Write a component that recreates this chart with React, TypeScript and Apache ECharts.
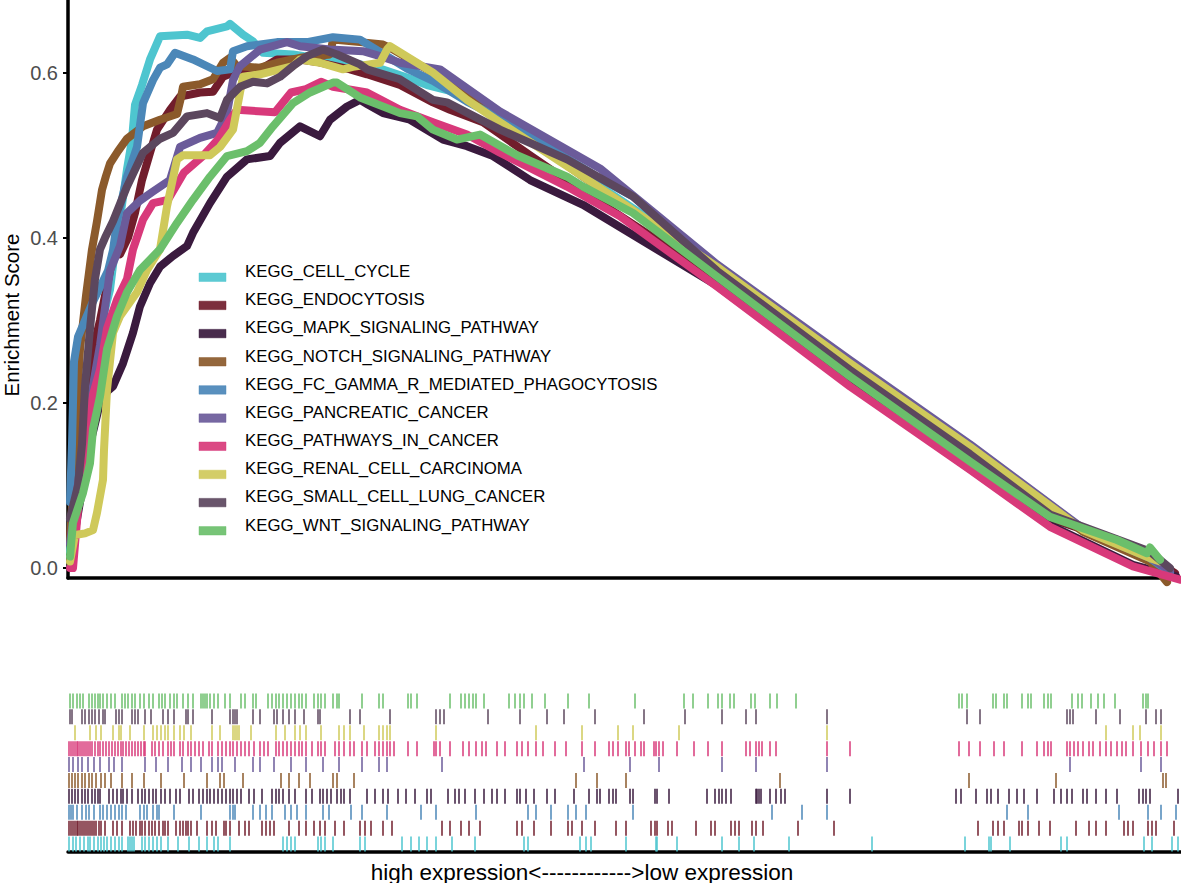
import React, { useEffect, useRef } from "react";
import * as echarts from "echarts";

const SETS = [
  "KEGG_CELL_CYCLE",
  "KEGG_ENDOCYTOSIS",
  "KEGG_MAPK_SIGNALING_PATHWAY",
  "KEGG_NOTCH_SIGNALING_PATHWAY",
  "KEGG_FC_GAMMA_R_MEDIATED_PHAGOCYTOSIS",
  "KEGG_PANCREATIC_CANCER",
  "KEGG_PATHWAYS_IN_CANCER",
  "KEGG_RENAL_CELL_CARCINOMA",
  "KEGG_SMALL_CELL_LUNG_CANCER",
  "KEGG_WNT_SIGNALING_PATHWAY",
];

// barcode rows, bottom to top (alphabetical)
const RUG_ORDER = [
  "KEGG_CELL_CYCLE",
  "KEGG_ENDOCYTOSIS",
  "KEGG_FC_GAMMA_R_MEDIATED_PHAGOCYTOSIS",
  "KEGG_MAPK_SIGNALING_PATHWAY",
  "KEGG_NOTCH_SIGNALING_PATHWAY",
  "KEGG_PANCREATIC_CANCER",
  "KEGG_PATHWAYS_IN_CANCER",
  "KEGG_RENAL_CELL_CARCINOMA",
  "KEGG_SMALL_CELL_LUNG_CANCER",
  "KEGG_WNT_SIGNALING_PATHWAY",
];

const COLORS = [
  "#4ec5cf",
  "#711d2c",
  "#3a1a3e",
  "#8b5a2b",
  "#4b87b8",
  "#6b5b9a",
  "#d8397a",
  "#cfc95a",
  "#5c475e",
  "#6bbf6b",
];

const Y_TICKS = [0, 0.2, 0.4, 0.6];
const GENE_COUNT = 11130;
const Y_TITLE = "Enrichment Score";
const X_TITLE = "high expression<------------>low expression";

// running enrichment score: [gene rank, ES]
const esCellCycle = [[20,0.02],[120,0.15],[220,0.24],[320,0.29],[420,0.337],[470,0.386],[540,0.44],[590,0.483],[640,0.519],[670,0.561],[740,0.585],[820,0.616],[920,0.644],[1190,0.646],[1320,0.642],[1390,0.65],[1590,0.656],[1620,0.659],[1750,0.646],[1850,0.638],[1950,0.624],[2250,0.622],[2620,0.615],[2920,0.61],[3120,0.605],[3390,0.594],[3590,0.585],[3820,0.578],[4320,0.545],[5150,0.476],[5820,0.422],[6490,0.366],[7820,0.25],[9020,0.148],[10150,0.046],[10820,0.01],[11040,-0.008]];
const esEndocytosis = [[20,0.04],[120,0.17],[220,0.25],[320,0.3],[420,0.36],[470,0.385],[520,0.38],[600,0.4],[670,0.43],[740,0.47],[820,0.503],[890,0.531],[1020,0.555],[1120,0.571],[1320,0.576],[1450,0.577],[1550,0.595],[1650,0.6],[1790,0.6],[1920,0.604],[2090,0.616],[2320,0.616],[2490,0.613],[2820,0.604],[2990,0.598],[3320,0.585],[3650,0.564],[3820,0.555],[4150,0.54],[4620,0.5],[5150,0.456],[6490,0.35],[7820,0.23],[9020,0.128],[9820,0.06],[10490,0.033],[10820,0.013],[11070,-0.006]];
const esMapk = [[20,0.01],[120,0.08],[220,0.15],[320,0.2],[400,0.215],[450,0.22],[550,0.248],[650,0.285],[720,0.317],[820,0.345],[920,0.365],[1050,0.378],[1190,0.39],[1250,0.406],[1420,0.442],[1590,0.474],[1790,0.495],[2020,0.499],[2120,0.515],[2320,0.535],[2520,0.523],[2620,0.543],[2790,0.559],[2920,0.567],[2990,0.562],[3150,0.551],[3420,0.543],[3750,0.519],[3990,0.511],[4250,0.499],[4620,0.47],[5150,0.44],[6490,0.342],[7820,0.222],[9020,0.12],[9820,0.052],[10650,0.004],[11080,-0.01]];
const esNotch = [[20,0.03],[50,0.1],[90,0.2],[120,0.265],[180,0.33],[240,0.386],[290,0.42],[340,0.458],[380,0.475],[420,0.49],[500,0.505],[590,0.52],[750,0.535],[920,0.543],[1090,0.55],[1130,0.57],[1150,0.583],[1320,0.586],[1450,0.592],[1550,0.612],[1620,0.618],[1690,0.608],[1920,0.606],[2090,0.612],[2320,0.618],[2620,0.622],[2650,0.64],[2920,0.637],[3150,0.634],[3220,0.63],[3650,0.6],[4320,0.545],[5150,0.474],[6490,0.363],[7820,0.247],[9020,0.145],[10150,0.044],[10820,0.008],[10990,-0.017]];
const esFcGamma = [[20,0.08],[40,0.15],[60,0.25],[100,0.28],[170,0.3],[240,0.32],[320,0.34],[400,0.36],[450,0.385],[490,0.42],[590,0.474],[690,0.51],[750,0.563],[850,0.591],[920,0.606],[990,0.61],[1070,0.624],[1250,0.616],[1490,0.602],[1620,0.604],[1650,0.626],[1790,0.632],[2090,0.637],[2390,0.637],[2650,0.643],[2920,0.64],[3120,0.625],[3390,0.605],[3650,0.59],[3990,0.565],[4320,0.545],[5050,0.492],[5320,0.472],[5650,0.45],[6490,0.367],[7820,0.25],[9020,0.148],[10150,0.047],[10820,0.012],[11020,-0.005]];
const esPancreatic = [[20,0.03],[120,0.12],[220,0.2],[320,0.27],[420,0.36],[520,0.39],[590,0.43],[720,0.445],[850,0.456],[1020,0.47],[1120,0.51],[1320,0.521],[1490,0.527],[1590,0.551],[1650,0.591],[1720,0.608],[1920,0.628],[2190,0.637],[2320,0.632],[2620,0.628],[2950,0.626],[3120,0.62],[3320,0.612],[3720,0.604],[4320,0.553],[5320,0.484],[6490,0.368],[7820,0.252],[9020,0.15],[10150,0.048],[10820,0.013],[11020,-0.003]];
const esPathways = [[20,0],[50,0],[120,0.1],[190,0.17],[250,0.21],[320,0.24],[390,0.29],[490,0.325],[590,0.35],[650,0.386],[750,0.422],[850,0.442],[1000,0.446],[1160,0.479],[1350,0.499],[1500,0.519],[1620,0.543],[1690,0.555],[2070,0.552],[2230,0.576],[2380,0.58],[2530,0.589],[2650,0.583],[2990,0.576],[3320,0.555],[3650,0.54],[3990,0.525],[4320,0.503],[4990,0.462],[5520,0.426],[6490,0.341],[7820,0.22],[9020,0.119],[9820,0.05],[10650,0.002],[11120,-0.014]];
const esRenal = [[20,0.008],[70,0.04],[170,0.042],[250,0.046],[290,0.067],[350,0.107],[360,0.143],[390,0.216],[450,0.285],[520,0.305],[690,0.334],[790,0.361],[920,0.386],[990,0.438],[1090,0.495],[1150,0.5],[1420,0.5],[1520,0.51],[1650,0.531],[1720,0.576],[1750,0.595],[1920,0.598],[2250,0.608],[2320,0.616],[2520,0.612],[2750,0.604],[2850,0.607],[3120,0.612],[3190,0.628],[3220,0.632],[3650,0.6],[3990,0.567],[4320,0.54],[5150,0.474],[6490,0.365],[7820,0.248],[9020,0.147],[10150,0.046],[10820,0.012],[10920,0.008]];
const esSmallCell = [[20,0.06],[100,0.1],[140,0.15],[170,0.22],[220,0.29],[270,0.35],[320,0.386],[370,0.4],[450,0.42],[590,0.462],[750,0.503],[920,0.52],[1050,0.527],[1190,0.547],[1390,0.551],[1520,0.545],[1590,0.567],[1720,0.583],[1850,0.589],[1990,0.587],[2120,0.595],[2250,0.608],[2390,0.62],[2550,0.628],[2690,0.622],[2920,0.61],[2990,0.604],[3320,0.592],[3650,0.567],[3790,0.564],[4320,0.531],[4990,0.495],[5650,0.45],[6490,0.36],[7820,0.24],[9020,0.138],[9820,0.065],[10490,0.035],[10820,0.02],[11020,0]];
const esWnt = [[20,0.014],[50,0.055],[150,0.091],[220,0.127],[250,0.168],[320,0.208],[390,0.265],[490,0.305],[590,0.334],[720,0.361],[920,0.386],[1090,0.418],[1250,0.446],[1420,0.474],[1590,0.499],[1790,0.505],[1920,0.515],[2050,0.535],[2250,0.563],[2420,0.576],[2650,0.588],[2690,0.588],[2920,0.57],[3320,0.551],[3490,0.547],[3650,0.531],[3890,0.519],[4120,0.525],[4490,0.5],[4990,0.474],[5150,0.462],[5650,0.43],[6490,0.353],[7820,0.232],[9020,0.129],[9820,0.062],[10490,0.034],[10790,0.018],[10820,0.025],[10920,0.01]];

// ranks of the gene-set members (barcode rug)
const hitsCellCycle = [10,50,80,120,160,200,220,260,300,330,360,390,430,470,510,540,600,620,640,660,740,770,810,850,890,930,1000,1100,1210,1310,1390,1460,1500,1620,2150,2190,2230,2270,2500,2530,2570,2650,2920,2970,3340,3430,3510,3590,3680,3840,4070,4560,4600,5120,5180,5230,5580,5880,5890,6090,6540,6710,6860,7210,8040,8970,9210,9230,9420,9930,9990,10760,10840,11040,11100];
const hitsEndocytosis = [10,30,50,70,90,100,120,140,160,180,200,220,240,260,280,310,330,370,450,490,540,620,650,680,720,740,770,810,840,870,910,950,970,1000,1080,1120,1150,1180,1200,1230,1290,1390,1440,1480,1560,1580,1620,1710,1770,1810,1940,1980,2020,2060,2210,2310,2380,2460,2520,2570,2670,2760,2920,2970,3030,3150,3240,3740,3820,3930,4010,4120,4490,4540,4660,4830,5000,5040,5140,5270,5480,5580,5830,5870,5890,6000,6040,6280,6430,6470,6630,6670,6710,6840,6880,6950,7300,7660,9100,9250,9300,9360,9510,9540,9600,9710,9820,10080,10210,10280,10380,10560,10600,10650,10800,10840,10880,11060];
const hitsMapk = [10,40,70,100,140,170,200,240,270,300,320,410,450,490,530,550,590,640,700,740,770,810,850,880,930,970,1020,1080,1120,1210,1250,1310,1350,1390,1420,1460,1500,1540,1580,1620,1650,1690,1730,1810,1860,1940,2040,2080,2110,2150,2210,2270,2380,2440,2520,2550,2590,2630,2690,2730,2760,2820,2990,3070,3150,3200,3300,3380,3470,3590,3630,3800,3870,3910,3970,4070,4160,4240,4290,4370,4490,4520,4580,4660,4790,4870,5060,5210,5290,5320,5410,5450,5480,5620,5650,5870,5890,6010,6390,6470,6510,6540,6580,6630,6880,6890,6910,6930,7020,7080,7130,7170,7590,7820,8880,8930,9080,9190,9230,9300,9410,9490,9560,9690,9860,9930,9990,10040,10150,10190,10280,10380,10490,10710,10750,10780,10820,11100];
const hitsNotch = [10,40,70,100,140,170,210,240,280,330,370,430,540,640,760,930,1160,1390,1520,1560,1750,2130,2210,2310,2420,2650,2690,2860,5080,5290,5580,7120,9010,9880,10950,10980];
const hitsFcGamma = [10,30,50,90,140,180,210,260,320,350,390,430,470,510,540,580,720,760,790,850,890,910,1060,1330,1620,1650,1670,1850,1920,1980,2040,2170,2230,2290,2380,2550,2610,2830,2940,3190,3530,3680,4080,4600,4680,4830,5000,5080,5180,5650,7040,7340,7590,9390,9600,10510,10800,10930,11080];
const hitsPancreatic = [10,50,100,140,200,260,320,410,460,540,770,880,1000,1140,1230,1330,1440,1500,1540,1670,1850,1920,2060,2230,2380,2550,2710,2940,3110,3190,3740,5160,5620,5910,6540,6880,7590,10020,10730,10930];
const hitsPathways = [10,30,50,70,90,100,120,140,160,180,200,220,240,270,300,320,350,380,410,440,470,500,530,550,580,610,640,670,700,730,760,770,840,870,910,950,1000,1030,1060,1120,1150,1200,1230,1270,1310,1350,1410,1440,1500,1540,1580,1620,1650,1690,1730,1770,1810,1860,1920,1960,2000,2080,2110,2150,2190,2230,2270,2310,2340,2380,2440,2500,2530,2570,2670,2710,2760,2820,2860,2940,2990,3070,3110,3150,3190,3220,3260,3400,3490,3660,3680,3720,3820,3950,4010,4080,4140,4180,4290,4370,4490,4540,4600,4680,4750,4870,4980,5140,5270,5410,5450,5500,5580,5610,5670,5730,5760,5860,5880,5910,5950,6090,6260,6400,6540,6780,6820,6880,6910,6940,7020,7080,7590,7820,8910,9010,9120,9260,9360,9540,9690,9760,9800,9830,9990,10020,10060,10100,10150,10210,10250,10320,10380,10430,10490,10540,10580,10650,10730,10800,10860,10930,10990];
const hitsRenal = [70,220,280,330,450,510,530,620,760,850,890,930,970,1000,1060,1120,1160,1230,1440,1520,1650,1670,1690,1710,1830,2080,2170,2270,2320,2380,2530,2710,2760,2820,2960,3110,3150,3190,3220,3680,4680,5140,5500,5650,6110,7590,10380,10650,10720,10930];
const hitsSmallCell = [20,40,140,170,210,240,270,310,350,370,480,510,540,640,670,700,770,830,950,1000,1060,1180,1200,1250,1440,1620,1650,1670,1690,1850,1920,2060,2090,2150,2210,2270,2360,2500,2520,2820,2920,3220,3680,3720,3760,4200,4520,4790,4960,5270,5760,6170,6540,6780,6880,7590,8990,9120,9990,10020,10050,10280,10520,10780,10880,10930];
const hitsWnt = [20,50,90,120,150,210,240,270,300,320,350,390,430,470,540,570,600,640,670,720,760,810,850,910,940,970,1020,1060,1090,1150,1200,1250,1330,1350,1370,1390,1420,1460,1500,1570,1620,1730,1770,1850,1880,2000,2040,2080,2110,2150,2190,2230,2270,2310,2340,2380,2460,2500,2530,2570,2650,2690,2710,2940,3110,3150,3400,3430,3490,3820,3930,3970,4010,4050,4080,4160,4410,4470,4520,4560,4640,4770,5000,5210,5670,6160,6250,6400,6500,6540,6620,6660,6830,6870,7020,7090,7280,8910,8940,8990,9250,9280,9360,9390,9540,9600,9630,9760,9800,9830,10040,10100,10140,10230,10300,10360,10470,10750,10780,10800];

const ES = [esCellCycle, esEndocytosis, esMapk, esNotch, esFcGamma, esPancreatic, esPathways, esRenal, esSmallCell, esWnt];
const HITS = [hitsCellCycle, hitsEndocytosis, hitsMapk, hitsNotch, hitsFcGamma, hitsPancreatic, hitsPathways, hitsRenal, hitsSmallCell, hitsWnt];

const FONT = "'Liberation Sans', Arial, Helvetica, sans-serif";

export default function App() {
  const ref = useRef<HTMLDivElement>(null);

  useEffect(() => {
    if (!ref.current) return;
    const chart = echarts.init(ref.current, undefined, { renderer: "svg" });

    const lineSeries = SETS.map((name, i) => ({
      name,
      type: "line",
      xAxisIndex: 0,
      yAxisIndex: 0,
      data: ES[i],
      showSymbol: false,
      symbol: "none",
      clip: false,
      color: COLORS[i],
      lineStyle: { width: 8, color: COLORS[i], cap: "round", join: "round" },
      emphasis: { disabled: true },
      z: 3,
    }));

    const rugSeries = SETS.map((name, i) => ({
      name: name + " hits",
      type: "scatter",
      xAxisIndex: 1,
      yAxisIndex: 1,
      data: HITS[i].map((r) => [r, name]),
      symbol: "rect",
      symbolSize: [2, 15],
      itemStyle: { color: COLORS[i], opacity: 0.75 },
      emphasis: { disabled: true },
      silent: true,
    }));

    // legend drawn as keys + labels
    const legendX = 199;
    const legendTextX = 245;
    const legendTop = 271.5;
    const legendStep = 28.17;
    const legendGraphics: any[] = [];
    SETS.forEach((name, i) => {
      const cy = legendTop + i * legendStep;
      legendGraphics.push({
        type: "rect",
        shape: { x: legendX, y: cy + 1.5, width: 27, height: 8.5 },
        style: { fill: COLORS[i], stroke: COLORS[i], lineWidth: 0.5, opacity: 0.92 },
        silent: true,
      });
      legendGraphics.push({
        type: "text",
        x: legendTextX,
        y: cy,
        style: {
          text: name,
          fontSize: 16.8,
          fill: "#000",
          align: "left",
          verticalAlign: "middle",
          fontFamily: FONT,
        },
        silent: true,
      });
    });

    chart.setOption({
      animation: false,
      backgroundColor: "#ffffff",
      textStyle: { fontFamily: FONT },
      grid: [
        { left: 68, top: 0, width: 1113, height: 578 },
        { left: 68, top: 693, width: 1113, height: 159 },
      ],
      xAxis: [
        {
          gridIndex: 0,
          type: "value",
          min: 0,
          max: GENE_COUNT,
          axisLine: { show: true, onZero: false, lineStyle: { color: "#000", width: 3.5 } },
          axisTick: { show: false },
          axisLabel: { show: false },
          splitLine: { show: false },
        },
        {
          gridIndex: 1,
          type: "value",
          min: 0,
          max: GENE_COUNT,
          axisLine: { show: true, onZero: false, lineStyle: { color: "#000", width: 3.5 } },
          axisTick: { show: false },
          axisLabel: { show: false },
          splitLine: { show: false },
        },
      ],
      yAxis: [
        {
          gridIndex: 0,
          type: "value",
          min: -0.012,
          max: 0.688,
          axisLine: { show: true, onZero: false, lineStyle: { color: "#000", width: 3.5 } },
          axisTick: {
            show: true,
            length: 5,
            customValues: Y_TICKS,
            lineStyle: { color: "#000", width: 2 },
          },
          axisLabel: {
            customValues: Y_TICKS,
            formatter: (v: number) => v.toFixed(1),
            fontSize: 20,
            color: "#4d4d4d",
            margin: 10,
            fontFamily: FONT,
          },
          splitLine: { show: false },
        },
        {
          gridIndex: 1,
          type: "category",
          data: RUG_ORDER,
          axisLine: { show: false },
          axisTick: { show: false },
          axisLabel: { show: false },
          splitLine: { show: false },
        },
      ],
      graphic: [
        ...legendGraphics,
        {
          type: "text",
          x: 11,
          y: 315,
          rotation: Math.PI / 2,
          style: {
            text: Y_TITLE,
            fontSize: 20.5,
            fill: "#000",
            align: "center",
            verticalAlign: "middle",
            fontFamily: FONT,
          },
        },
        {
          type: "text",
          x: 582,
          y: 872,
          style: {
            text: X_TITLE,
            fontSize: 22.5,
            fill: "#000",
            align: "center",
            verticalAlign: "middle",
            fontFamily: FONT,
          },
        },
      ],
      series: [...lineSeries, ...rugSeries],
    });

    return () => chart.dispose();
  }, []);

  return (
    <div
      ref={ref}
      style={{ position: "absolute", left: 0, top: 0, width: 1181, height: 883 }}
    />
  );
}
